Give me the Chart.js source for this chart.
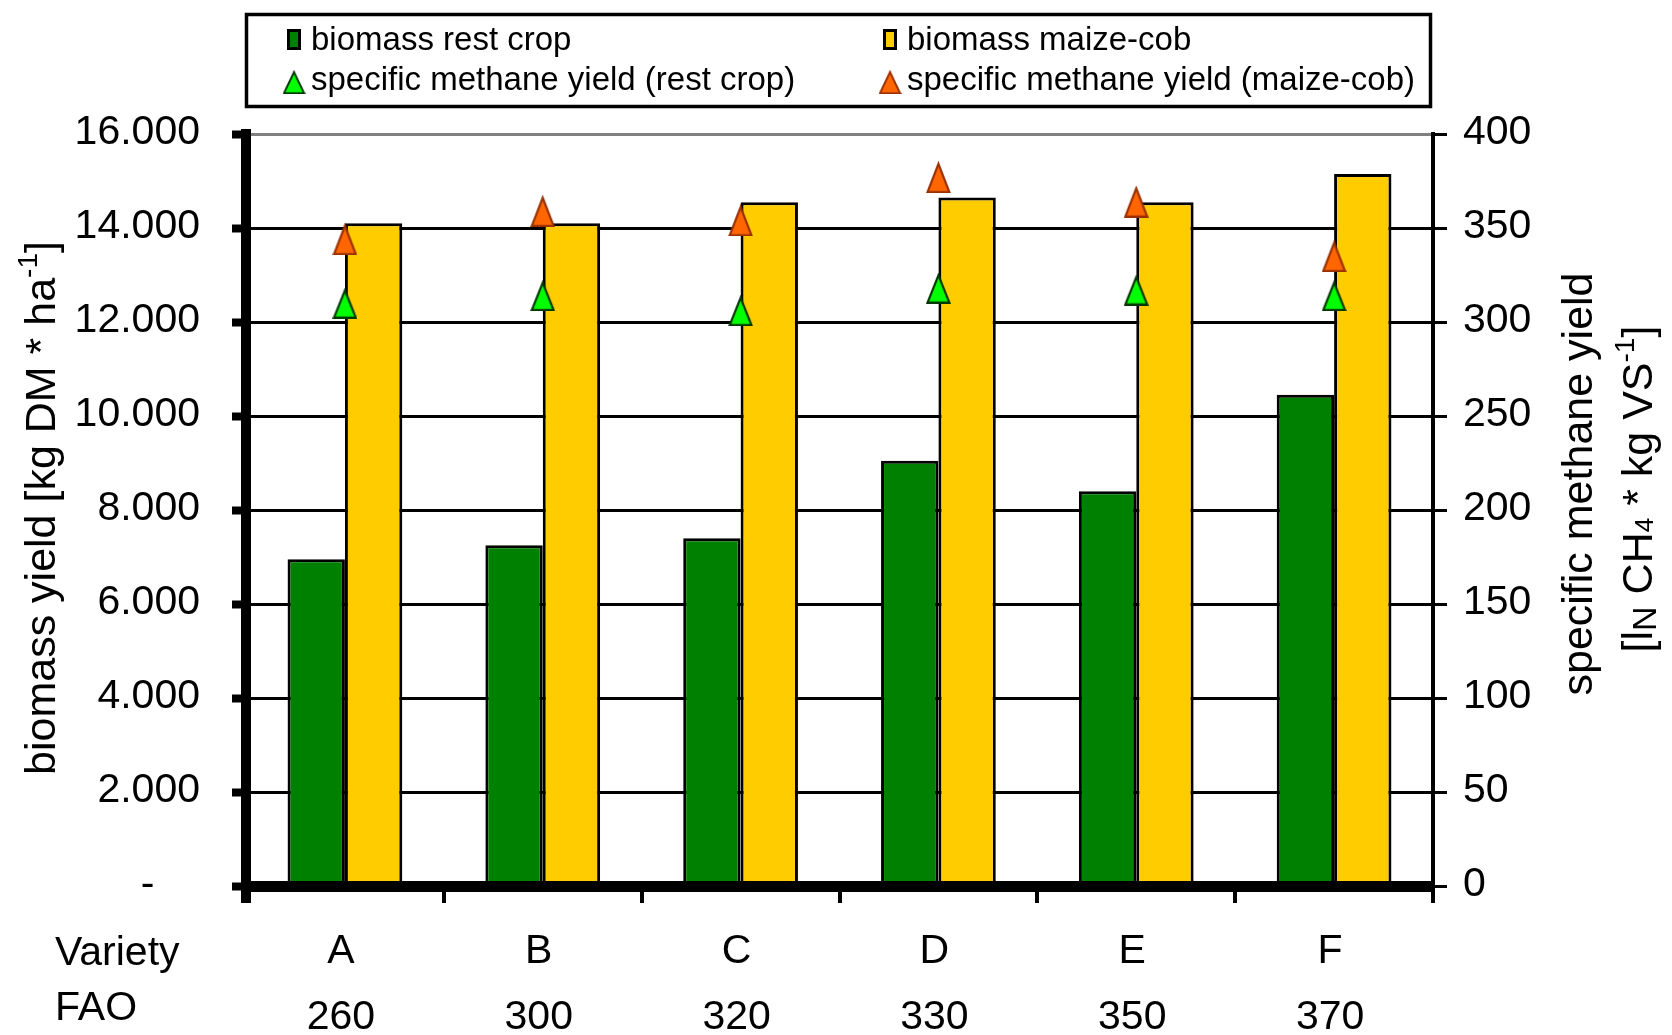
<!DOCTYPE html>
<html>
<head>
<meta charset="utf-8">
<title>Biomass and methane yield by maize variety</title>
<script src="https://cdn.jsdelivr.net/npm/chart.js@4/dist/chart.umd.min.js"></script>
<style>
  html, body { margin: 0; padding: 0; background: #ffffff; }
  canvas { display: block; }
</style>
</head>
<body>
<canvas id="yieldChart" width="1672" height="1035"></canvas>
<script>
// ---- data ----
const varieties = ['A', 'B', 'C', 'D', 'E', 'F'];
const faoNumbers = ['260', '300', '320', '330', '350', '370'];
const rowHeaders = ['Variety', 'FAO'];

const seriesNames = [
  'biomass rest crop',
  'biomass maize-cob',
  'specific methane yield (rest crop)',
  'specific methane yield (maize-cob)'
];

// biomass yield, kg DM per ha
const restCropBiomass = [6950, 7250, 7400, 9050, 8400, 10450];
const maizeCobBiomass = [14100, 14100, 14550, 14650, 14550, 15150];

// specific methane yield, lN CH4 per kg VS
const methaneRestCrop = [310, 314, 306, 318, 317, 314];
const methaneMaizeCob = [344, 359, 354, 377, 364, 335];

const biomassTickLabels = ['-', '2.000', '4.000', '6.000', '8.000', '10.000', '12.000', '14.000', '16.000'];
const methaneTickLabels = ['0', '50', '100', '150', '200', '250', '300', '350', '400'];

// axis titles as text runs (sub/superscripts marked)
const leftTitleRuns = [
  { t: 'biomass yield [kg DM * ha' }, { t: '-1', sup: true }, { t: ']' }
];
const rightTitleRuns1 = [{ t: 'specific methane yield' }];
const rightTitleRuns2 = [
  { t: '[l' }, { t: 'N', sub: true }, { t: ' CH' }, { t: '4', sub4: true },
  { t: ' * kg VS' }, { t: '-1', sup: true }, { t: ']' }
];

// ---- styling helpers ----
const FONT = '"Liberation Sans", Arial, Helvetica, sans-serif';
Chart.defaults.font.family = FONT;
Chart.defaults.color = '#000000';

function triangleMarker(fill, stroke, w, h) {
  const c = document.createElement('canvas');
  c.width = w; c.height = h;
  const g = c.getContext('2d');
  const lw = 2.2;
  g.beginPath();
  g.moveTo(w / 2, lw * 1.2);
  g.lineTo(w - lw / 2 - 0.5, h - lw / 2);
  g.lineTo(lw / 2 + 0.5, h - lw / 2);
  g.closePath();
  g.fillStyle = fill;
  g.fill();
  g.lineWidth = lw;
  g.lineJoin = 'miter';
  g.strokeStyle = stroke;
  g.stroke();
  return c;
}

const greenTriangle = triangleMarker('#00ff00', '#003800', 25, 31);
const orangeTriangle = triangleMarker('#ff6600', '#9a3000', 25, 32);

// draws a line of mixed-size text rotated to read bottom-to-top
function drawVerticalRuns(ctx, runs, cx, baselineX, size) {
  const pieces = runs.map(r => {
    let s = size, dy = 0;
    if (r.sup) { s = Math.round(size * 0.65); dy = -Math.round(size * 0.42); }
    if (r.sub) { s = Math.round(size * 0.8); dy = Math.round(size * 0.1); }
    if (r.sub4) { s = Math.round(size * 0.6); dy = Math.round(size * 0.03); }
    ctx.font = s + 'px ' + FONT;
    return { t: r.t, s, dy, w: ctx.measureText(r.t).width };
  });
  const total = pieces.reduce((a, p) => a + p.w, 0);
  ctx.save();
  ctx.translate(baselineX, cx);
  ctx.rotate(-Math.PI / 2);
  ctx.textBaseline = 'alphabetic';
  ctx.textAlign = 'left';
  let x = -total / 2;
  for (const p of pieces) {
    ctx.font = p.s + 'px ' + FONT;
    ctx.fillText(p.t, x, p.dy);
    x += p.w;
  }
  ctx.restore();
}

// legend frame, legend entries, axis titles and row headers
const decorations = {
  id: 'decorations',
  afterDraw(chart) {
    const ctx = chart.ctx;
    const area = chart.chartArea;
    ctx.save();

    // legend frame
    ctx.lineWidth = 3.5;
    ctx.strokeStyle = '#000000';
    ctx.strokeRect(246.5, 14.5, 1184, 92);

    // legend entries (two columns, two rows)
    const cols = [{ mark: 294, text: 311 }, { mark: 890, text: 907 }];
    const rows = [50, 90];
    const ds = chart.data.datasets;
    ctx.font = '33px ' + FONT;
    ctx.fillStyle = '#000000';
    ctx.textBaseline = 'alphabetic';
    ctx.textAlign = 'left';
    ds.forEach((d, i) => {
      const col = cols[i % 2];
      const base = rows[Math.floor(i / 2)];
      if (d.type === 'bar') {
        ctx.fillStyle = '#000000';
        ctx.fillRect(col.mark - 7, base - 21, 14, 21);
        ctx.fillStyle = d.backgroundColor;
        ctx.fillRect(col.mark - 4, base - 18, 8, 15);
      } else {
        ctx.drawImage(d.pointStyle, col.mark - 11.5, base - 20, 23, 24);
      }
      ctx.fillStyle = '#000000';
      ctx.fillText(d.label, col.text, base);
    });

    // axis titles
    ctx.fillStyle = '#000000';
    const midY = (area.top + area.bottom) / 2;
    drawVerticalRuns(ctx, leftTitleRuns, midY - 2, 55, 43);
    drawVerticalRuns(ctx, rightTitleRuns1, midY - 26, 1592, 43);
    drawVerticalRuns(ctx, rightTitleRuns2, midY - 21, 1652, 43);

    // row headers beside the category labels
    ctx.font = '41px ' + FONT;
    ctx.textAlign = 'left';
    ctx.textBaseline = 'alphabetic';
    ctx.fillText(rowHeaders[0], 55, 965);
    ctx.fillText(rowHeaders[1], 55, 1020);

    ctx.restore();
  }
};

new Chart(document.getElementById('yieldChart'), {
  data: {
    labels: varieties.map((v, i) => [v, faoNumbers[i]]),
    datasets: [
      {
        type: 'bar', label: seriesNames[0], data: restCropBiomass,
        backgroundColor: '#008000', borderColor: '#000000', borderWidth: 3,
        yAxisID: 'y', order: 2
      },
      {
        type: 'bar', label: seriesNames[1], data: maizeCobBiomass,
        backgroundColor: '#ffcc00', borderColor: '#000000', borderWidth: 3,
        yAxisID: 'y', order: 2
      },
      {
        type: 'line', label: seriesNames[2], data: methaneRestCrop,
        showLine: false, pointStyle: greenTriangle, pointRadius: 12,
        yAxisID: 'y1', order: 1
      },
      {
        type: 'line', label: seriesNames[3], data: methaneMaizeCob,
        showLine: false, pointStyle: orangeTriangle, pointRadius: 12,
        yAxisID: 'y1', order: 1
      }
    ]
  },
  options: {
    responsive: false,
    animation: false,
    devicePixelRatio: 1,
    layout: { padding: { top: 134, left: 0, right: 0, bottom: 0 } },
    plugins: {
      legend: { display: false },
      tooltip: { enabled: false }
    },
    datasets: { bar: { categoryPercentage: 0.58, barPercentage: 1 } },
    scales: {
      x: {
        position: 'bottom',
        offset: true,
        grid: {
          display: true, offset: true, drawOnChartArea: false, drawTicks: true,
          tickLength: 17, tickWidth: c => (c.index === 0 ? 10 : 4),
          tickColor: '#000000', color: '#000000', lineWidth: 4
        },
        border: { display: true, width: 11, color: '#000000', z: 1 },
        ticks: {
          font: { size: 41, lineHeight: 1.6 }, padding: 16, labelOffset: -4,
          maxRotation: 0, minRotation: 0, autoSkip: false
        },
        afterFit: s => { s.height = 149; }
      },
      y: {
        position: 'left',
        min: 0, max: 16000,
        ticks: {
          stepSize: 2000, font: { size: 41 }, padding: 32, labelOffset: -1,
          callback: (v, i) => (i === 0 ? biomassTickLabels[i] + '    ' : biomassTickLabels[i])
        },
        grid: {
          color: c => (c.tick && c.tick.value === 16000 ? '#808080' : '#000000'),
          lineWidth: 3, tickLength: 14, tickWidth: 8, tickColor: '#000000'
        },
        border: { display: true, width: 10, color: '#000000', z: 1 },
        afterFit: s => { s.width = 246; }
      },
      y1: {
        position: 'right',
        min: 0, max: 400,
        ticks: {
          stepSize: 50, font: { size: 41 }, padding: 16, labelOffset: -1,
          callback: (v, i) => methaneTickLabels[i]
        },
        grid: {
          drawOnChartArea: false, lineWidth: 3, tickLength: 14, tickWidth: 3,
          color: '#000000', tickColor: '#000000'
        },
        border: { display: true, width: 4, color: '#000000', z: 1 },
        afterFit: s => { s.width = 239; }
      }
    }
  },
  plugins: [decorations]
});
</script>
</body>
</html>
